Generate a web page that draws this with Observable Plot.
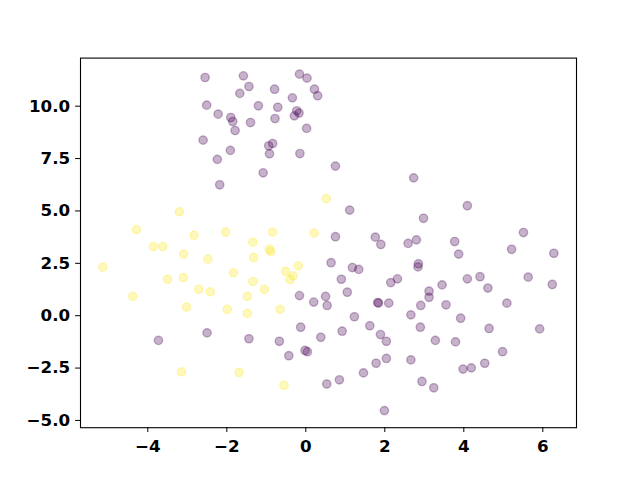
<!DOCTYPE html>
<html>
<head>
<meta charset="utf-8">
<script src="https://cdn.jsdelivr.net/npm/d3@7"></script>
<script src="https://cdn.jsdelivr.net/npm/@observablehq/plot@0.6"></script>
<style>
  html, body { margin: 0; padding: 0; background: #ffffff; }
</style>
</head>
<body>
<div id="chart"></div>
<script>
// Class 0 (purple) points
const purpleX = [-2.55, -1.58, -0.16, 0.03, -1.44, -0.79, 0.22, -1.67, 0.30, -0.34,
  -2.51, -1.20, -0.71, -2.22, -1.90, -1.85, -1.40, -0.78, -0.23, -0.17,
  -0.29, -1.79, 0.02, -2.60, -0.84, -0.94, -1.91, -0.92, -0.15, -2.24,
  -1.08, -2.18, 0.75, 2.73, 4.09, 1.11, 2.98, 0.75, 1.76, 1.90,
  2.59, 2.80, 3.77, 3.87, 5.51, 5.21, 6.28, 0.64, 1.18, 1.34,
  2.85, 2.84, 0.90, 2.15, 2.32, 4.09, 4.41, 5.63, 6.24, 3.45,
  3.12, 1.05, 4.61, -0.16, 0.20, 0.50, 0.54, -3.73, -2.50, -1.44,
  -0.67, -0.13, 0.38, 0.92, -0.43, -0.02, 0.04, 0.53, 0.85, 1.82,
  1.84, 2.10, 3.12, 2.91, 3.55, 5.09, 1.23, 1.62, 1.89, 2.04,
  2.66, 2.90, 3.28, 3.79, 3.92, 4.64, 5.92, 2.04, 1.78, 1.46,
  2.66, 3.98, 4.19, 4.53, 4.98, 2.94, 3.24, 1.99];
const purpleY = [11.37, 11.45, 11.53, 11.34, 10.94, 10.81, 10.81, 10.61, 10.50, 10.40,
  10.05, 10.02, 9.95, 9.62, 9.46, 9.27, 9.22, 9.41, 9.78, 9.67,
  9.54, 8.84, 8.94, 8.38, 8.22, 8.11, 7.89, 7.73, 7.74, 7.46,
  6.82, 6.25, 7.14, 6.58, 5.25, 5.04, 4.65, 3.77, 3.75, 3.40,
  3.45, 3.62, 3.54, 2.94, 3.97, 3.17, 2.98, 2.53, 2.30, 2.21,
  2.48, 2.33, 1.74, 1.58, 1.76, 1.76, 1.86, 1.84, 1.49, 1.47,
  1.17, 1.12, 1.32, 0.96, 0.65, 0.92, 0.49, -1.18, -0.82, -1.10,
  -1.22, -0.55, -1.03, -0.74, -1.91, -1.66, -1.72, -3.26, -3.06, 0.63,
  0.60, 0.60, 0.88, 0.49, 0.52, 0.60, -0.05, -0.48, -0.90, -1.22,
  0.04, -0.55, -1.18, -1.25, -0.12, -0.61, -0.63, -2.04, -2.27, -2.73,
  -2.11, -2.55, -2.49, -2.27, -1.72, -3.14, -3.44, -4.53];

// Class 1 (yellow) points
const yellowX = [0.52, -3.20, -4.29, -2.83, -2.03, -0.84, 0.21, -3.86, -3.62, -1.34,
  -0.92, -0.89, -3.09, -2.48, -1.32, -5.14, -1.83, -0.51, -0.19, -0.32,
  -0.40, -3.50, -3.10, -1.34, -2.71, -2.42, -1.05, -4.38, -1.48, -3.02,
  -1.99, -1.48, -0.65, -3.15, -1.69, -0.55];
const yellowY = [5.59, 4.96, 4.11, 3.84, 3.99, 3.99, 3.94, 3.30, 3.30, 3.51,
  3.17, 3.06, 2.94, 2.70, 2.78, 2.32, 2.05, 2.12, 2.38, 1.90,
  1.73, 1.74, 1.82, 1.63, 1.26, 1.14, 1.26, 0.92, 0.92, 0.41,
  0.30, 0.11, 0.30, -2.68, -2.71, -3.32];

const xTicks = [-4, -2, 0, 2, 4, 6];
const yTicks = [-5, -2.5, 0, 2.5, 5, 7.5, 10];

const colors = { purple: "#440154", yellow: "#fde725" };

const points = [
  ...purpleX.map((x, i) => ({ x, y: purpleY[i], c: "purple" })),
  ...yellowX.map((x, i) => ({ x, y: yellowY[i], c: "yellow" }))
];

const chart = Plot.plot({
  width: 640,
  height: 480,
  marginLeft: 80,
  marginRight: 64,
  marginTop: 57.6,
  marginBottom: 52.8,
  style: { fontFamily: "'DejaVu Sans', sans-serif", background: "#ffffff", overflow: "visible" },
  x: { domain: [-5.704, 6.853], axis: null },
  y: { domain: [-5.346, 12.296], axis: null },
  marks: [
    Plot.dot(points, {
      x: "x", y: "y", r: 4.17,
      fill: d => colors[d.c], fillOpacity: 0.3,
      stroke: d => colors[d.c], strokeOpacity: 0.3, strokeWidth: 1.39
    }),
    Plot.frame({ stroke: "black", strokeWidth: 1.1 }),
    Plot.axisX({
      ticks: xTicks, tickSize: 4.86, tickPadding: 8, label: null,
      tickFormat: d3.format("d"),
      fontSize: 16.7, fontWeight: "bold", color: "black"
    }),
    Plot.axisY({
      ticks: yTicks, tickSize: 4.86, tickPadding: 5.5, label: null,
      tickFormat: d3.format(".1f"),
      fontSize: 16.7, fontWeight: "bold", color: "black"
    })
  ]
});

document.getElementById("chart").appendChild(chart);
</script>
</body>
</html>
